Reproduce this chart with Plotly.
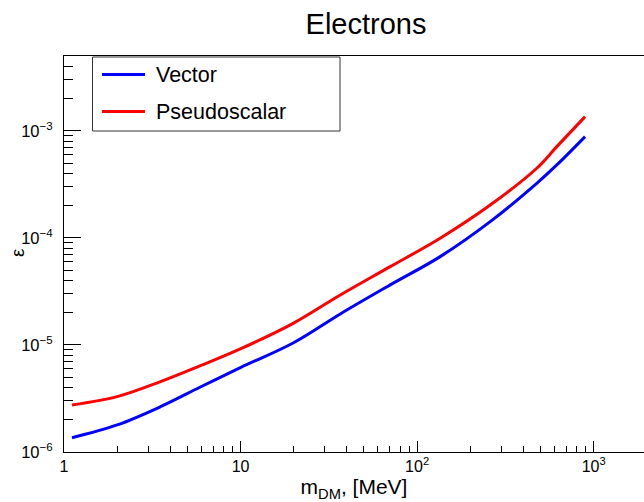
import plotly.graph_objects as go

# Data
mass_mev = [1.11, 2.0, 3.52, 5.92, 9.97, 19.97, 36.7, 70.4, 135.1, 259.3, 476, 618.3, 894]
eps_vector = [1.36e-6, 1.79e-6, 2.65e-6, 4.05e-6, 6.14e-6, 1.05e-5, 1.95e-5,
              3.64e-5, 6.69e-5, 1.42e-4, 3.24e-4, 4.81e-4, 8.85e-4]
eps_pseudoscalar = [2.75e-6, 3.29e-6, 4.54e-6, 6.40e-6, 9.18e-6, 1.60e-5, 2.93e-5,
                    5.39e-5, 9.94e-5, 2.03e-4, 4.48e-4, 7.13e-4, 1.36e-3]
series_names = ["Vector", "Pseudoscalar"]
series_colors = ["#0000ff", "#ff0000"]

x_tickvals = [1, 10, 100, 1000]
x_ticktext = ["1", "10", "10<sup>2</sup>", "10<sup>3</sup>"]
y_tickvals = [1e-6, 1e-5, 1e-4, 1e-3]
y_ticktext = ["10<sup>−6</sup>", "10<sup>−5</sup>", "10<sup>−4</sup>", "10<sup>−3</sup>"]

x_minor = [m * 10 ** d for d in range(0, 4) for m in range(2, 10)]
y_minor = [m * 10 ** d for d in range(-6, -2) for m in range(2, 10)]

FONT = "Liberation Sans, Arial, Helvetica, sans-serif"
W, H = 644, 502
L, R, T, B = 64, 0, 56, 50

fig = go.Figure()
for name, ys, col in zip(series_names, [eps_vector, eps_pseudoscalar], series_colors):
    fig.add_trace(go.Scatter(x=mass_mev, y=ys, mode="lines", name=name, showlegend=False,
                             line=dict(color=col, width=3, shape="spline", smoothing=1.0)))

# ROOT-style legend box (paper coordinates computed from pixels)
def px_x(p):
    return (p - L) / (W - L - R)

def px_y(p):
    return (H - B - p) / (H - T - B)

shapes = [dict(type="rect", xref="paper", yref="paper",
               x0=px_x(92.5), x1=px_x(340), y0=px_y(131), y1=px_y(57),
               line=dict(color="#333333", width=1), fillcolor="white", layer="above")]
annotations = []
for i, (name, col) in enumerate(zip(series_names, series_colors)):
    yy = [74.5, 111.5][i]
    shapes.append(dict(type="line", xref="paper", yref="paper",
                       x0=px_x(102), x1=px_x(145), y0=px_y(yy), y1=px_y(yy),
                       line=dict(color=col, width=3), layer="above"))
    annotations.append(dict(text=name, xref="paper", yref="paper", x=px_x(154), y=px_y(yy),
                            xanchor="left", yanchor="middle", showarrow=False,
                            font=dict(size=21.5, family=FONT, color="black")))

# y-axis title (ROOT places it close to the frame)
annotations.append(dict(text="ε", xref="paper", yref="paper", x=px_x(17), y=px_y(253),
                        xanchor="center", yanchor="middle", showarrow=False, textangle=-90,
                        font=dict(size=19, family=FONT, color="black")))

fig.update_layout(
    width=W, height=H,
    margin=dict(l=L, r=R, t=T, b=B),
    paper_bgcolor="white", plot_bgcolor="white",
    font=dict(family=FONT, color="black"),
    title=dict(text="Electrons", x=366 / W, xanchor="center", y=1 - 24 / H, yanchor="middle",
               font=dict(size=29, family=FONT)),
    showlegend=False,
    shapes=shapes,
    annotations=annotations,
    xaxis=dict(type="log", range=[0, 3.285],
               tickmode="array", tickvals=x_tickvals, ticktext=x_ticktext,
               ticks="inside", ticklen=11, tickwidth=1, tickcolor="black",
               showline=True, linecolor="black", linewidth=1, mirror=True,
               showgrid=False, zeroline=False,
               tickfont=dict(size=16, family=FONT),
               minor=dict(tickmode="array", tickvals=x_minor, ticks="inside",
                          ticklen=6, tickwidth=1, tickcolor="black", showgrid=False),
               title=dict(text="m<sub>DM</sub>, [MeV]", font=dict(size=21, family=FONT), standoff=2)),
    yaxis=dict(type="log", range=[-6, -2.30],
               tickmode="array", tickvals=y_tickvals, ticktext=y_ticktext,
               ticks="inside", ticklen=17, tickwidth=1, tickcolor="black",
               showline=True, linecolor="black", linewidth=1, mirror=False,
               showgrid=False, zeroline=False,
               tickfont=dict(size=16.5, family=FONT), ticklabelstandoff=7,
               minor=dict(tickmode="array", tickvals=y_minor, ticks="inside",
                          ticklen=9, tickwidth=1, tickcolor="black", showgrid=False)),
)

fig.write_html("out.html")
